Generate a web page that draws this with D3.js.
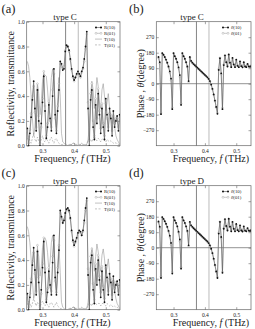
<!DOCTYPE html>
<html><head><meta charset="utf-8">
<script src="https://cdn.jsdelivr.net/npm/d3@7"></script>
<style>
body{margin:0;background:#fff}
svg{display:block}
text{font-family:"Liberation Serif","DejaVu Serif",serif;fill:#222}
</style>
</head><body>
<svg id="c" width="255" height="329"></svg>
<script>
// ---------- data ----------
const freq = [0.252,0.256,0.260,0.264,0.268,0.272,0.276,0.280,0.284,0.288,
  0.292,0.296,0.300,0.304,0.308,0.312,0.316,0.320,0.324,0.328,
  0.332,0.336,0.340,0.344,0.348,0.352,0.356,0.360,0.364,0.368,
  0.372,0.376,0.380,0.384,0.388,0.392,0.396,0.400,0.404,0.408,
  0.412,0.416,0.420,0.424,0.428,0.432,0.436,0.440,0.444,0.448,
  0.452,0.456,0.460,0.464,0.468,0.472,0.476,0.480,0.484,0.488,
  0.492,0.496,0.500,0.504,0.508,0.512,0.516,0.520,0.524,0.528,
  0.532,0.536,0.540,0.544,0.548];

const xTicks = [0.3, 0.4, 0.5];
const rTicks = [0.0, 0.2, 0.4, 0.6, 0.8, 1.0];
const pTicks = [-270, -180, -90, 0, 90, 180, 270];
const bandLines = [0.373, 0.413];

// type C
const R10_C = [0.14,0.00,0.10,0.23,0.37,0.52,0.30,0.12,0.45,0.20,
  0.00,0.18,0.35,0.56,0.28,0.06,0.15,0.33,0.22,0.12,
  0.40,0.62,0.25,0.10,0.28,0.45,0.68,0.66,0.61,0.62,
  0.76,0.81,0.80,0.77,0.70,0.62,0.56,0.53,0.55,0.58,
  0.60,0.58,0.56,0.60,0.63,0.70,0.80,0.92,0.30,0.00,
  0.37,0.45,0.15,0.05,0.33,0.18,0.42,0.25,0.10,0.30,
  0.15,0.05,0.38,0.25,0.12,0.30,0.22,0.08,0.28,0.15,
  0.20,0.24,0.12,0.25,0.20];
const R01_C = [0.12,0.02,0.13,0.26,0.40,0.48,0.27,0.15,0.50,0.24,
  0.02,0.15,0.38,0.60,0.32,0.08,0.18,0.36,0.20,0.15,
  0.45,0.58,0.22,0.12,0.32,0.50,0.66,0.64,0.62,0.64,
  0.77,0.80,0.80,0.76,0.69,0.61,0.55,0.52,0.55,0.57,
  0.59,0.57,0.55,0.59,0.62,0.68,0.78,0.90,0.35,0.04,
  0.42,0.50,0.20,0.08,0.38,0.22,0.46,0.28,0.14,0.34,
  0.18,0.08,0.34,0.22,0.15,0.26,0.25,0.12,0.24,0.18,
  0.22,0.20,0.15,0.22,0.18];
const T10_C = [0.68,0.64,0.55,0.40,0.22,0.08,0.15,0.35,0.50,0.42,
  0.25,0.35,0.52,0.58,0.57,0.56,0.45,0.30,0.40,0.55,
  0.62,0.50,0.30,0.15,0.35,0.55,0.40,0.10,0.03,0.02,
  0.01,0.01,0.00,0.01,0.01,0.01,0.02,0.02,0.01,0.01,
  0.00,0.01,0.01,0.02,0.01,0.01,0.01,0.01,0.05,0.15,
  0.35,0.52,0.45,0.30,0.42,0.55,0.48,0.35,0.30,0.45,
  0.50,0.40,0.28,0.35,0.42,0.30,0.22,0.18,0.25,0.15,
  0.08,0.05,0.03,0.01,0.00];
const T01_C = [0.05,0.08,0.04,0.02,0.06,0.10,0.05,0.03,0.07,0.04,
  0.02,0.05,0.08,0.04,0.03,0.06,0.04,0.02,0.05,0.07,
  0.04,0.02,0.05,0.06,0.03,0.02,0.01,0.01,0.01,0.00,
  0.00,0.00,0.00,0.00,0.01,0.01,0.02,0.02,0.01,0.00,
  0.00,0.00,0.01,0.01,0.00,0.00,0.00,0.01,0.04,0.06,
  0.05,0.03,0.06,0.08,0.05,0.04,0.06,0.05,0.03,0.05,
  0.06,0.04,0.03,0.05,0.04,0.03,0.04,0.03,0.02,0.03,
  0.02,0.02,0.01,0.01,0.00];
const P10_C = [155,125,-177,178,168,155,140,122,100,72,
  30,-148,178,160,145,125,95,50,-123,178,
  160,145,125,100,15,155,132,122,114,107,
  100,93,86,79,72,65,58,51,44,37,
  28,15,-5,-30,-62,-98,-135,-175,80,148,
  60,-148,108,165,125,100,170,122,96,150,
  112,96,140,104,96,130,102,95,125,100,
  96,115,100,98,105];
const P01_C = [150,118,-170,176,166,153,138,120,96,65,
  20,-140,176,158,143,122,90,40,-115,176,
  158,143,122,95,10,152,130,121,113,106,
  99,92,85,78,71,64,57,50,43,36,
  27,14,-6,-32,-64,-100,-138,-170,85,150,
  55,-140,110,162,122,102,166,120,98,146,
  110,98,136,106,98,126,104,97,122,102,
  98,112,102,100,103];

// type D
const R10_D = [0.13,0.00,0.10,0.22,0.36,0.50,0.32,0.12,0.47,0.22,
  0.00,0.16,0.34,0.55,0.30,0.06,0.14,0.31,0.20,0.12,
  0.38,0.60,0.26,0.12,0.30,0.48,0.80,0.75,0.70,0.72,
  0.78,0.81,0.82,0.80,0.74,0.64,0.56,0.52,0.55,0.58,
  0.62,0.64,0.63,0.60,0.64,0.72,0.82,0.90,0.28,0.00,
  0.38,0.44,0.16,0.05,0.33,0.20,0.40,0.24,0.10,0.31,
  0.16,0.06,0.36,0.26,0.12,0.29,0.22,0.08,0.27,0.14,
  0.20,0.23,0.12,0.24,0.20];
const R01_D = [0.11,0.02,0.13,0.25,0.39,0.46,0.29,0.15,0.52,0.26,
  0.02,0.13,0.37,0.58,0.33,0.08,0.17,0.34,0.18,0.15,
  0.43,0.56,0.23,0.14,0.34,0.52,0.78,0.74,0.70,0.73,
  0.78,0.80,0.81,0.79,0.73,0.63,0.55,0.51,0.54,0.57,
  0.61,0.63,0.62,0.60,0.63,0.70,0.80,0.88,0.33,0.04,
  0.43,0.49,0.21,0.08,0.37,0.24,0.44,0.27,0.14,0.35,
  0.19,0.09,0.33,0.23,0.15,0.25,0.25,0.12,0.23,0.17,
  0.22,0.20,0.15,0.21,0.18];
const T10_D = [0.67,0.63,0.54,0.41,0.24,0.09,0.14,0.33,0.49,0.43,
  0.27,0.34,0.50,0.57,0.58,0.55,0.46,0.32,0.39,0.54,
  0.60,0.52,0.32,0.16,0.33,0.52,0.30,0.06,0.02,0.01,
  0.00,0.00,0.00,0.01,0.01,0.01,0.02,0.02,0.01,0.01,
  0.00,0.01,0.01,0.02,0.01,0.01,0.01,0.01,0.06,0.16,
  0.36,0.50,0.44,0.31,0.43,0.53,0.47,0.36,0.31,0.44,
  0.49,0.41,0.29,0.34,0.41,0.31,0.23,0.19,0.24,0.15,
  0.09,0.05,0.03,0.01,0.00];
const T01_D = [0.04,0.07,0.05,0.02,0.05,0.09,0.06,0.03,0.06,0.04,
  0.02,0.05,0.07,0.05,0.03,0.05,0.04,0.02,0.05,0.06,
  0.04,0.02,0.04,0.06,0.03,0.02,0.01,0.01,0.00,0.00,
  0.00,0.00,0.00,0.00,0.01,0.01,0.02,0.02,0.01,0.00,
  0.00,0.00,0.01,0.01,0.00,0.00,0.00,0.01,0.04,0.05,
  0.05,0.03,0.05,0.07,0.05,0.04,0.05,0.05,0.03,0.05,
  0.05,0.04,0.03,0.05,0.04,0.03,0.04,0.03,0.02,0.03,
  0.02,0.02,0.01,0.01,0.00];
const P10_D = [152,122,-176,178,167,154,139,121,98,70,
  28,-150,178,159,144,124,93,48,-122,178,
  159,144,124,98,14,150,130,121,113,106,
  99,92,85,78,71,64,57,50,43,36,
  27,14,-6,-31,-64,-100,-138,-176,82,150,
  62,-146,110,166,126,100,168,122,95,150,
  110,95,138,102,95,130,100,94,124,99,
  95,114,99,97,104];
const P01_D = [148,115,-168,176,165,152,137,119,94,62,
  18,-142,176,157,142,121,88,38,-114,176,
  157,142,121,93,9,148,128,120,112,105,
  98,91,84,77,70,63,56,49,42,35,
  26,13,-7,-33,-66,-102,-140,-170,86,151,
  57,-140,112,162,122,102,165,120,97,146,
  108,97,134,104,97,126,102,96,121,101,
  97,111,101,99,102];

// ---------- drawing ----------
const svg = d3.select('#c');
const FONT = '"Liberation Serif","DejaVu Serif",serif';

function panel(o) {
  const g = svg.append('g').attr('transform', `translate(0,${o.oy})`);
  const x = d3.scaleLinear().domain(o.xDomain).range([o.L, o.R]);
  const y = d3.scaleLinear().domain(o.yDomain).range([o.B, o.T]);

  g.append('rect').attr('x', o.L).attr('y', o.T)
    .attr('width', o.R - o.L).attr('height', o.B - o.T)
    .attr('fill', 'none').attr('stroke', '#666').attr('stroke-width', 0.7);

  const xa = g.append('g').attr('transform', `translate(0,${o.B})`)
    .call(d3.axisBottom(x).tickValues(xTicks).tickSize(-2.5).tickPadding(3)
      .tickFormat(d3.format('.1f')));
  const ya = g.append('g').attr('transform', `translate(${o.L},0)`)
    .call(d3.axisLeft(y).tickValues(o.yTicks).tickSize(-2.5).tickPadding(2)
      .tickFormat(o.yFmt));
  [xa, ya].forEach(a => {
    a.select('.domain').remove();
    a.selectAll('line').attr('stroke', '#666').attr('stroke-width', 0.6);
    a.selectAll('text').attr('font-family', FONT).attr('font-size', 5.5).attr('fill', '#333');
  });
  g.append('g').attr('transform', `translate(0,${o.T})`)
    .call(d3.axisTop(x).tickValues(xTicks).tickSize(-2.5).tickFormat(''))
    .call(a => { a.select('.domain').remove(); a.selectAll('line').attr('stroke', '#666').attr('stroke-width', 0.6); });
  g.append('g').attr('transform', `translate(${o.R},0)`)
    .call(d3.axisRight(y).tickValues(o.yTicks).tickSize(-2.5).tickFormat(''))
    .call(a => { a.select('.domain').remove(); a.selectAll('line').attr('stroke', '#666').attr('stroke-width', 0.6); });

  g.selectAll('line.band').data(bandLines).join('line').attr('class', 'band')
    .attr('x1', d => x(d)).attr('x2', d => x(d)).attr('y1', o.T).attr('y2', o.B)
    .attr('stroke', (d, i) => i === 0 ? '#666' : '#aaa').attr('stroke-width', 0.8);
  if (o.zero) {
    g.append('line').attr('x1', o.L).attr('x2', o.R).attr('y1', y(0)).attr('y2', y(0))
      .attr('stroke', '#666').attr('stroke-width', 0.7);
  }

  const clipId = 'clip' + o.oy + '_' + Math.round(o.L);
  g.append('clipPath').attr('id', clipId).append('rect')
    .attr('x', o.L).attr('y', o.T).attr('width', o.R - o.L).attr('height', o.B - o.T);
  const plot = g.append('g').attr('clip-path', `url(#${clipId})`);
  const line = d3.line().x((d, i) => x(freq[i])).y(d => y(d));

  o.series.forEach(s => {
    plot.append('path').datum(s.values).attr('d', line).attr('fill', 'none')
      .attr('stroke', s.stroke).attr('stroke-width', s.width || 0.6)
      .attr('stroke-dasharray', s.dash || null);
    if (s.marker) {
      plot.selectAll(null).data(s.values).join('circle')
        .attr('cx', (d, i) => x(freq[i])).attr('cy', d => y(d)).attr('r', 0.9)
        .attr('fill', s.marker === 'filled' ? '#111' : '#fff')
        .attr('stroke', s.marker === 'filled' ? 'none' : '#aaa').attr('stroke-width', 0.5);
    }
  });

  const lg = g.append('g');
  o.legend.forEach((e, i) => {
    const ly = o.legY + i * 5.8;
    const s = e.s;
    lg.append('line').attr('x1', o.legX).attr('x2', o.legX + 7).attr('y1', ly).attr('y2', ly)
      .attr('stroke', s.stroke).attr('stroke-width', 0.6).attr('stroke-dasharray', s.dash || null);
    if (s.marker) {
      [o.legX + 1, o.legX + 6].forEach(cx => lg.append('circle').attr('cx', cx).attr('cy', ly).attr('r', 1.0)
        .attr('fill', s.marker === 'filled' ? '#111' : '#fff')
        .attr('stroke', s.marker === 'filled' ? 'none' : '#aaa').attr('stroke-width', 0.5));
    }
    const t = lg.append('text').attr('x', o.legX + 9).attr('y', ly + 1.6)
      .attr('font-size', 4.8).attr('fill', '#333');
    e.parts.forEach(p => t.append('tspan').attr('font-style', p[1] ? 'italic' : null).text(p[0]));
  });

  g.append('text').attr('x', o.labX).attr('y', 13).attr('font-size', 12.5).text(o.label);
  g.append('text').attr('x', o.titleX).attr('y', 19.5).attr('text-anchor', 'middle')
    .attr('font-size', 9).text(o.title);

  const xt = g.append('text').attr('x', o.xlabX).attr('y', 162).attr('text-anchor', 'middle').attr('font-size', 10);
  xt.append('tspan').text('Frequency, ');
  xt.append('tspan').attr('font-style', 'italic').text('f');
  xt.append('tspan').text(' (THz)');
  const yt = g.append('text').attr('transform', `translate(${o.ylabX},${(o.T + o.B) / 2}) rotate(-90)`)
    .attr('text-anchor', 'middle').attr('font-size', 10);
  o.ylab.forEach(p => yt.append('tspan').attr('font-style', p[1] ? 'italic' : null).text(p[0]));
}

function reflPanel(oy, label, title, R10, R01, T10, T01) {
  const sR10 = {values: R10, stroke: '#555', marker: 'filled', width: 0.6};
  const sR01 = {values: R01, stroke: '#aaa', marker: 'open', width: 0.6};
  const sT10 = {values: T10, stroke: '#999', width: 0.6};
  const sT01 = {values: T01, stroke: '#999', width: 0.6, dash: '2,1.5'};
  panel({oy, L: 26.7, R: 120, T: 21.7, B: 145.7, xDomain: [0.25, 0.545], yDomain: [0, 1],
    yTicks: rTicks, yFmt: d3.format('.1f'), zero: false,
    series: [sT01, sT10, sR01, sR10],
    legend: [{s: sR10, parts: [['R(10)']]}, {s: sR01, parts: [['R(01)']]},
             {s: sT10, parts: [['T(10)']]}, {s: sT01, parts: [['T(01)']]}],
    legX: 95, legY: 27.5, label, labX: 1.5, title, titleX: 65, xlabX: 72.5, ylabX: 13.5,
    ylab: [['Reflectivity, transmittance']]});
}
function phasePanel(oy, label, title, P10, P01) {
  const s10 = {values: P10, stroke: '#555', marker: 'filled', width: 0.6};
  const s01 = {values: P01, stroke: '#aaa', marker: 'open', width: 0.6};
  panel({oy, L: 156.3, R: 251, T: 21.7, B: 145.7, xDomain: [0.245, 0.547], yDomain: [-360, 360],
    yTicks: pTicks, yFmt: d3.format('d'), zero: true,
    series: [s01, s10],
    legend: [{s: s10, parts: [['θ', true], ['(10)']]}, {s: s01, parts: [['θ', true], ['(01)']]}],
    legX: 222, legY: 27.5, label, labX: 129, title, titleX: 192, xlabX: 211, ylabX: 143.5,
    ylab: [['Phase , '], ['θ', true], ['(degree)']]});
}

reflPanel(0, '(a)', 'type C', R10_C, R01_C, T10_C, T01_C);
phasePanel(0, '(b)', 'type C', P10_C, P01_C);
reflPanel(164, '(c)', 'type D', R10_D, R01_D, T10_D, T01_D);
phasePanel(164, '(d)', 'type D', P10_D, P01_D);
</script>
</body></html>
